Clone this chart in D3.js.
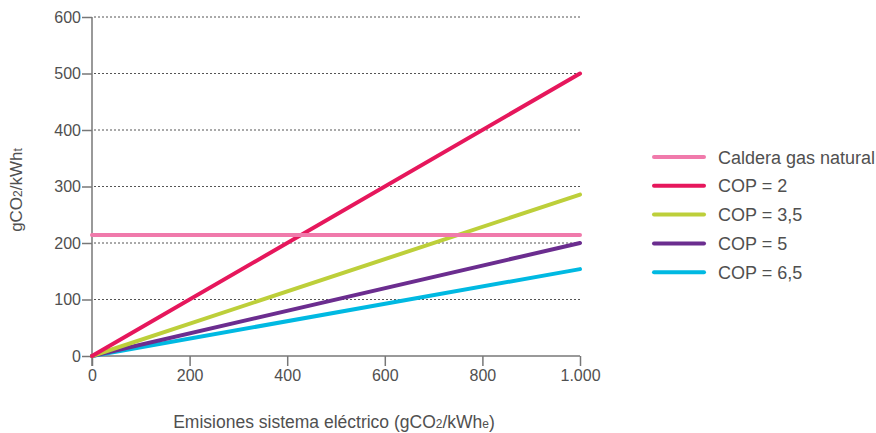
<!DOCTYPE html>
<html><head><meta charset="utf-8">
<script src="https://cdn.jsdelivr.net/npm/d3@7"></script>
<style>body{margin:0;background:#fff}svg{display:block}text{font-family:"Liberation Sans",Arial,sans-serif;fill:#505050}</style>
</head><body>
<svg id="c" width="876" height="433"></svg>
<script>
const xValues = [0, 1000];
const seriesNames = ["Caldera gas natural", "COP = 2", "COP = 3,5", "COP = 5", "COP = 6,5"];
const seriesColors = ["#F07AAB", "#E6175C", "#BDCF3A", "#6B2D8F", "#00B9E2"];
const gasValues = [214, 214];
const cop2Values = [0, 500];
const cop35Values = [0, 285.7];
const cop5Values = [0, 200];
const cop65Values = [0, 153.8];
const xTicks = [0, 200, 400, 600, 800, 1000];
const yTicks = [0, 100, 200, 300, 400, 500, 600];
const seriesValues = [gasValues, cop2Values, cop35Values, cop5Values, cop65Values];

const FONT = '"Liberation Sans",Arial,sans-serif';
const svg = d3.select("#c");
const x = d3.scaleLinear().domain([0, 1000]).range([92, 580]);
const y = d3.scaleLinear().domain([0, 600]).range([356, 17]);
const fmt = d => d3.format(",")(d).replace(/,/g, ".");

// gridlines
svg.append("g").selectAll("line").data(yTicks.filter(d => d > 0)).join("line")
  .attr("x1", x(0) + 2).attr("x2", x(1000)).attr("y1", d => y(d)).attr("y2", d => y(d))
  .attr("stroke", "#555").attr("stroke-width", 1).attr("stroke-dasharray", "2,2");

// axes
const yAxis = svg.append("g").attr("transform", `translate(${x(0)},0)`)
  .call(d3.axisLeft(y).tickValues(yTicks).tickSize(10).tickPadding(1).tickFormat(fmt));
const xAxis = svg.append("g").attr("transform", `translate(0,${y(0)})`)
  .call(d3.axisBottom(x).tickValues(xTicks).tickSize(10).tickPadding(4).tickFormat(fmt));
[yAxis, xAxis].forEach(a => {
  a.select(".domain").attr("stroke", "#777").attr("stroke-width", 1.5);
  a.selectAll(".tick line").attr("stroke", "#777").attr("stroke-width", 1.5);
  a.selectAll("text").attr("font-size", 16).attr("fill", "#505050").style("font-family", FONT);
});
yAxis.select(".domain").attr("d", `M0,${y(600)}V${y(0) + 10}`);
xAxis.select(".domain").attr("d", `M${x(0)},0H${x(1000)}`);

// lines
const line = d3.line().x((d, i) => x(xValues[i])).y(d => y(d));
svg.append("g").selectAll("path").data(seriesValues.map((v, i) => ({v, i})).slice().reverse()).join("path")
  .attr("d", d => line(d.v)).attr("fill", "none")
  .attr("stroke", d => seriesColors[d.i]).attr("stroke-width", 4).attr("stroke-linecap", "round");

// axis titles
const yl = svg.append("text").attr("transform", "translate(22,190) rotate(-90)")
  .attr("text-anchor", "middle").attr("font-size", 17);
yl.append("tspan").text("gCO");
yl.append("tspan").attr("font-size", 12).text("2");
yl.append("tspan").text("/kWh");
yl.append("tspan").attr("font-size", 12).text("t");

const xl = svg.append("text").attr("x", 334).attr("y", 428).attr("text-anchor", "middle").attr("font-size", 17.5);
xl.append("tspan").text("Emisiones sistema eléctrico (gCO");
xl.append("tspan").attr("font-size", 12).text("2");
xl.append("tspan").text("/kWh");
xl.append("tspan").attr("font-size", 12).text("e");
xl.append("tspan").text(")");

// legend
const lg = svg.append("g").selectAll("g").data(seriesNames).join("g")
  .attr("transform", (d, i) => `translate(0,${157 + i * 28.8})`);
lg.append("line").attr("x1", 654).attr("x2", 704).attr("y1", 0).attr("y2", 0)
  .attr("stroke", (d, i) => seriesColors[i]).attr("stroke-width", 4).attr("stroke-linecap", "round");
lg.append("text").attr("x", 718).attr("y", 6.5).attr("font-size", 18).text(d => d);
</script>
</body></html>
